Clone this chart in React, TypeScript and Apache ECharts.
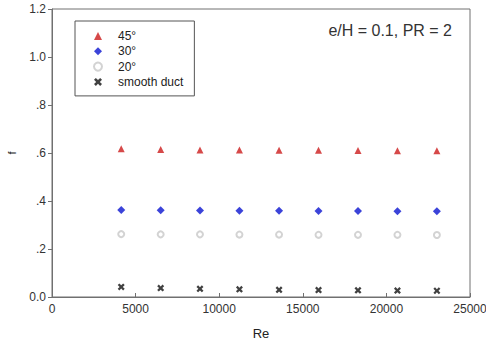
import React, { useEffect, useRef } from "react";
import * as echarts from "echarts";

const reynolds = [4140, 6500, 8850, 11210, 13580, 15940, 18300, 20660, 23020];
const f45 = [0.618, 0.615, 0.613, 0.612, 0.611, 0.611, 0.61, 0.609, 0.609];
const f30 = [0.362, 0.361, 0.36, 0.359, 0.359, 0.358, 0.358, 0.357, 0.357];
const f20 = [0.262, 0.261, 0.261, 0.26, 0.26, 0.259, 0.259, 0.259, 0.258];
const fSmooth = [0.042, 0.037, 0.034, 0.032, 0.03, 0.029, 0.028, 0.027, 0.026];
const seriesNames = ["45°", "30°", "20°", "smooth duct"];
const annotation = "e/H = 0.1, PR = 2";

const FONT = "'Liberation Sans', Arial, sans-serif";
const CROSS =
  "path://M0,2.3L2.3,0L5,2.7L7.7,0L10,2.3L7.3,5L10,7.7L7.7,10L5,7.3L2.3,10L0,7.7L2.7,5Z";

const pairs = (ys: number[]) => reynolds.map((x, i) => [x, ys[i]]);

export default function App() {
  const ref = useRef<HTMLDivElement>(null);
  useEffect(() => {
    if (!ref.current) return;
    const chart = echarts.init(ref.current, null, { renderer: "svg" });
    const axisColor = "#707070";
    chart.setOption({
      animation: false,
      textStyle: { fontFamily: FONT },
      grid: {
        left: 52,
        top: 9,
        right: 16,
        bottom: 46,
        containLabel: false,
        outerBoundsMode: "none",
        show: true,
        borderColor: axisColor,
        borderWidth: 1,
      },
      xAxis: {
        type: "value",
        min: 0,
        max: 25000,
        interval: 5000,
        name: "Re",
        nameLocation: "middle",
        nameGap: 30,
        nameTextStyle: { fontSize: 13, color: "#222", fontFamily: FONT },
        axisLine: { show: true, lineStyle: { color: axisColor, width: 1 } },
        axisTick: { show: true, inside: true, length: 4, lineStyle: { color: axisColor } },
        axisLabel: {
          fontSize: 12,
          color: "#333",
          margin: 6,
          fontFamily: FONT,
          formatter: (v: number) => String(v),
        },
        splitLine: { show: false },
      },
      yAxis: {
        type: "value",
        min: 0,
        max: 1.2,
        interval: 0.2,
        name: "f",
        nameLocation: "middle",
        nameRotate: 90,
        nameGap: 35,
        nameTextStyle: { fontSize: 11, color: "#222", fontFamily: FONT },
        axisLine: { show: true, lineStyle: { color: axisColor, width: 1 } },
        axisTick: { show: true, inside: false, length: 4, lineStyle: { color: axisColor } },
        axisLabel: {
          fontSize: 12,
          color: "#333",
          margin: 6,
          fontFamily: FONT,
          formatter: (v: number) =>
            v > 0 && v < 1 ? v.toFixed(1).slice(1) : v.toFixed(1),
        },
        splitLine: { show: false },
      },
      legend: {
        orient: "vertical",
        left: 75,
        top: 21,
        padding: [9, 11, 8, 18],
        borderColor: "#555",
        borderWidth: 1,
        itemWidth: 8,
        itemHeight: 8,
        itemGap: 3.3,
        textStyle: {
          fontSize: 12,
          lineHeight: 12,
          color: "#222",
          fontFamily: FONT,
          padding: [0, 0, 0, 11],
        },
        data: seriesNames,
      },
      series: [
        {
          name: seriesNames[0],
          type: "scatter",
          symbol: "triangle",
          symbolSize: 7,
          itemStyle: { color: "#cc1c1c" },
          data: pairs(f45),
        },
        {
          name: seriesNames[1],
          type: "scatter",
          symbol: "diamond",
          symbolSize: 8,
          itemStyle: { color: "#0a14d0" },
          data: pairs(f30),
        },
        {
          name: seriesNames[2],
          type: "scatter",
          symbol: "emptyCircle",
          symbolSize: 6,
          itemStyle: { color: "#c8c8c8", borderColor: "#c8c8c8", borderWidth: 1 },
          data: pairs(f20),
        },
        {
          name: seriesNames[3],
          type: "scatter",
          symbol: CROSS,
          symbolSize: 7,
          itemStyle: { color: "#111" },
          data: pairs(fSmooth),
        },
      ],
      graphic: [
        {
          type: "text",
          right: 34,
          top: 22,
          style: {
            text: annotation,
            fontSize: 16,
            fill: "#333",
            fontFamily: FONT,
          },
        },
      ],
    });
    return () => chart.dispose();
  }, []);
  return <div ref={ref} style={{ width: 486, height: 343, position: "absolute", left: 0, top: 0, background: "#fff" }} />;
}
